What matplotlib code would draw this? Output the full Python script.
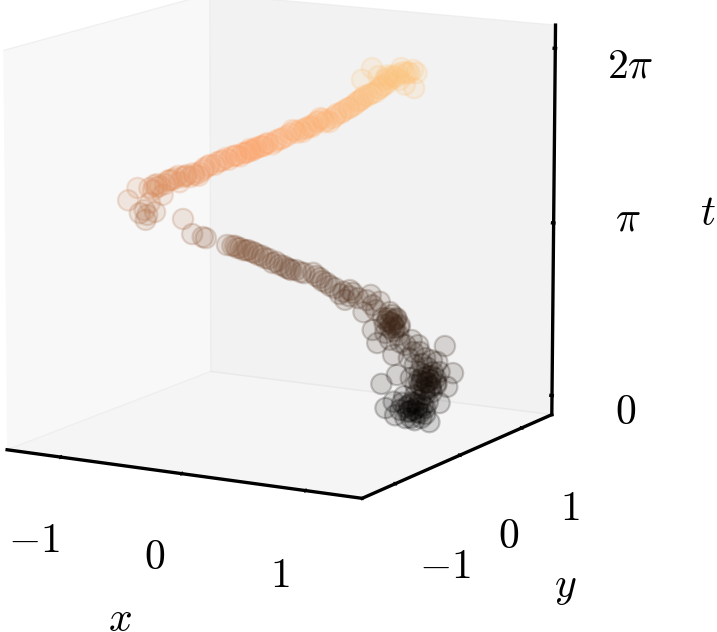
import numpy as np
import matplotlib
matplotlib.use("Agg")
import matplotlib.pyplot as plt

plt.rcParams['mathtext.fontset'] = 'cm'

# values, in hundredths
t_hundredths = [17,10,26,16,7,16,23,7,28,8,25,17,11,19,24,26,16,17,9,32,
 34,31,31,37,43,39,53,47,58,50,62,61,59,52,69,70,49,50,55,68,
 66,73,77,82,83,46,59,57,104,85,74,92,91,82,101,84,99,107,102,97,
 104,113,112,115,122,130,138,136,126,127,142,125,134,135,147,163,147,174,141,155,
 163,174,159,165,179,174,180,189,198,209,206,211,210,214,220,223,235,242,249,254,
 252,257,262,263,280,282,289,344,344,324,348,361,358,386,387,422,425,429,412,421,
 432,438,447,452,445,458,457,462,461,467,476,482,483,488,492,493,499,502,501,506,
 508,510,512,516,518,520,524,523,530,533,536,545,542,546,544,550,551,554,558,564,
 559,560,565,571,574,577,580,582,588,591,593,596,600,602,607,611,614,623,618,621,
 628,615,621,628,626,627,628,628,628,611,614,619,54,48,55,63,45,56,55,64,
 22,17,25,27,21,129,121,136,124,131,117,433,436,445,448,457,456,460,465,472,
 480,490,496,501,507,513,514,519,523,527,531,540,544,548,552,560,563,562,568,572,
 579,585,589,596,599,606,610,617,620,623,623,628,628,167,169,183,192,202,207,212,
 218,227,233,240,247,253,258,263]
x_hundredths = [72,83,82,91,100,100,102,112,89,92,95,84,104,94,88,75,105,98,96,94,
 80,101,110,88,99,95,99,91,92,87,88,95,85,108,95,106,83,95,90,90,
 80,84,78,89,84,57,64,76,88,78,73,71,66,65,67,52,57,60,52,34,
 43,37,48,26,43,38,42,35,41,46,38,34,41,31,36,27,24,20,14,21,
 16,5,-2,9,3,-3,-9,-15,-19,-22,-30,-36,-40,-43,-47,-52,-54,-57,-59,-60,
 -65,-68,-70,-74,-83,-85,-90,-67,-97,-110,-101,-90,-83,-74,-91,-71,-60,-53,-53,-58,
 -50,-44,-39,-34,-31,-25,-21,-17,-14,-13,-9,-5,-1,1,5,9,11,15,18,19,
 22,24,26,28,30,33,35,39,41,44,46,48,53,54,57,58,61,61,62,63,
 68,72,72,73,76,77,79,80,81,83,83,85,87,89,90,91,92,87,92,94,
 69,71,81,87,94,100,102,98,106,115,106,99,91,96,86,91,93,83,98,84,
 96,92,99,91,87,40,39,42,46,35,43,-54,-51,-41,-37,-31,-27,-24,-18,-10,
 -6,3,7,14,21,23,27,32,34,40,43,48,50,57,59,63,65,69,73,75,
 78,81,82,83,86,89,90,88,89,91,94,96,99,2,-6,-13,-18,-21,-33,-41,
 -44,-48,-52,-55,-58,-62,-65,-67]
y_hundredths = [24,18,31,23,16,24,29,16,33,17,31,24,19,26,30,31,23,24,18,36,
 38,35,36,40,45,42,52,48,56,50,60,59,57,52,65,65,50,51,54,64,
 62,67,70,73,74,46,57,56,87,75,68,80,79,74,85,74,84,88,85,83,
 86,90,90,91,94,96,98,98,95,96,99,95,97,98,99,100,100,99,99,100,
 100,99,100,100,98,99,97,95,92,87,88,86,86,84,81,79,71,66,61,56,
 58,54,50,49,33,32,25,-29,-29,-9,-33,-45,-42,-65,-67,-88,-90,-91,-83,-88,
 -92,-95,-97,-98,-97,-99,-99,-100,-99,-100,-100,-99,-99,-99,-98,-96,-95,-96,-96,-94,
 -93,-92,-92,-90,-89,-89,-86,-87,-83,-81,-79,-74,-76,-73,-75,-71,-69,-67,-64,-60,
 -63,-63,-58,-54,-51,-49,-46,-43,-38,-36,-33,-30,-26,-25,-20,-16,-13,-4,-9,-6,
 7,-12,-6,18,-1,0,2,15,5,-16,-13,-8,53,49,54,60,46,55,54,61,
 28,24,31,33,28,96,94,98,95,97,92,-93,-94,-96,-97,-99,-99,-99,-100,-100,
 -100,-98,-97,-96,-94,-91,-91,-89,-87,-85,-82,-77,-74,-72,-69,-63,-60,-61,-56,-52,
 -46,-41,-37,-31,-28,-21,-17,-10,-7,-4,-4,4,5,99,99,97,94,90,88,85,
 82,77,73,68,62,57,53,49]

x_ticks = [-1, 0, 1]
y_ticks = [-1, 0, 1]
t_ticks = [0, np.pi, 2*np.pi]
x_ticklabels = [r'$-1$', r'$0$', r'$1$']
y_ticklabels = [r'$-1$', r'$0$', r'$1$']
t_ticklabels = [r'$0$', r'$\pi$', r'$2\pi$']

t = np.array(t_hundredths) / 100
x = np.array(x_hundredths) / 100
y = np.array(y_hundredths) / 100

fig = plt.figure(figsize=(7.17, 6.32), dpi=100)
ax = fig.add_axes([-0.118, 0.082, 1.0, 1.06], projection='3d')
ax.view_init(elev=11.5, azim=-60.5)
ax.set_proj_type('persp', focal_length=1.6)
ax.set_box_aspect((1, 1, 1), zoom=1.01)
ax.set_xlim(-1.45, 1.45)
ax.set_ylim(-1.5, 1.5)
ax.set_zlim(-0.35, 6.70)

cols = plt.get_cmap('copper')(t / (2*np.pi))
fc = cols.copy(); fc[:, 3] = 0.15
ec = cols.copy(); ec[:, 3] = 0.22
ax.scatter(x, y, t, s=215, facecolors=fc, edgecolors=ec, linewidths=1.6, depthshade=False)

for axis, tk, lab, pad, out in ((ax.xaxis, x_ticks, x_ticklabels, 24, 0.012),
                                (ax.yaxis, y_ticks, y_ticklabels, 26, 0.012),
                                (ax.zaxis, t_ticks, t_ticklabels, 27, 0.04)):
    axis.set_ticks(tk)
    axis.set_ticklabels(lab, fontsize=30)
    axis.line.set_color('k')
    axis.line.set_linewidth(2.4)
    axis._axinfo['tick']['linewidth'] = {True: 2.4, False: 1.0}
    axis._axinfo['tick']['inward_factor'] = 0.01
    axis._axinfo['tick']['outward_factor'] = out
    axis.set_tick_params(pad=pad, length=0)
    axis.pane.set_edgecolor((0.9, 0.9, 0.9, 0.4))
ax.zaxis.get_major_ticks()[1].label1.set_va('center')
ax.grid(False)
ax.zaxis.set_rotate_label(False)
ax.set_xlabel(r'$x$', fontsize=30, labelpad=53)
ax.set_ylabel(r'$y$', fontsize=30, labelpad=53)
ax.set_zlabel(r'$t$', fontsize=30, labelpad=52, rotation=0)
fig.savefig('out.png', dpi=100)
